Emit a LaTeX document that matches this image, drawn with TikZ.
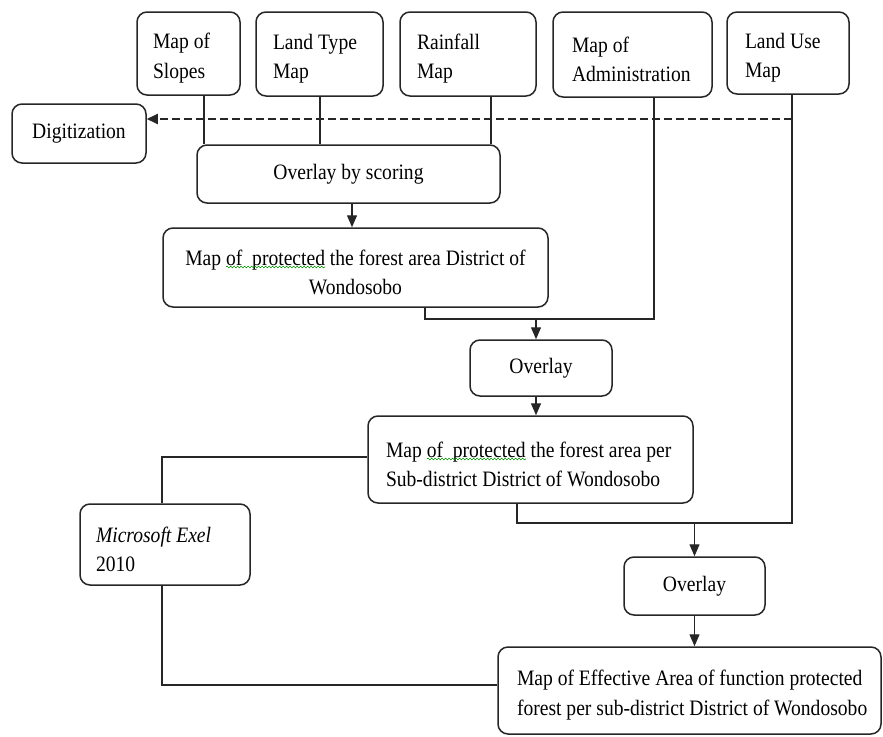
\documentclass[tikz,border=0pt]{standalone}
\usepackage{fontspec}
\setmainfont{Liberation Serif}[FakeStretch=0.89]
\usetikzlibrary{arrows.meta,decorations.pathmorphing}
\newcommand\topstrut{\spaceskip=0pt\xspaceskip=0pt\relax\rule{0pt}{25pt}}
\begin{document}
\begin{tikzpicture}[x=1pt,y=-1pt,
  box/.style={draw=black!85, line width=1.5pt, rounded corners=10pt, inner ysep=0pt, font=\fontsize{22}{29.5}\selectfont, text=black},
  lbox/.style={box, align=left},
  cbox/.style={box, align=center},
  link/.style={draw=black!85, line width=1.3pt},
  arr/.style={link, -{Triangle[length=12pt,width=10pt]}},
  dasharr/.style={link, line width=1.8pt, dash pattern=on 8pt off 4pt, -{Triangle[length=11pt,width=10pt]}},
  wavy/.style={draw=green!55!black, line width=0.6pt, decorate, decoration={snake, amplitude=0.9pt, segment length=3.5pt}}
]
\useasboundingbox (0,0) rectangle (883,736);

% top row
\node[lbox, text width=71pt, inner xsep=16pt, minimum height=83pt] (slopes) at (188.5,53.5) {\topstrut Map of\\Slopes};
\node[lbox, text width=93pt, inner xsep=17pt, minimum height=84pt] (ltype) at (319.5,54) {\topstrut Land Type\\Map};
\node[lbox, text width=102pt, inner xsep=17pt, minimum height=84pt] (rain) at (468,54) {\topstrut Rainfall\\Map};
\node[lbox, text width=121pt, inner xsep=19pt, minimum height=85pt] (admin) at (632.5,54.5) {\topstrut Map of\\Administration};
\node[lbox, text width=86pt, inner xsep=18pt, minimum height=82pt] (luse) at (788,53) {\topstrut Land Use\\Map};

\node[cbox, minimum width=134pt, minimum height=59pt] (dig) at (79,133.5) {Digitization};
\node[cbox, minimum width=303pt, minimum height=58pt] (score) at (348.5,174) {Overlay by scoring};
\node[cbox, minimum width=385pt, minimum height=79pt] (map1) at (355.5,267.5) {\topstrut Map of~ protected the forest area District of\\Wondosobo};
\node[cbox, minimum width=142pt, minimum height=56pt] (ov1) at (541,368) {Overlay};
\node[lbox, text width=289pt, inner xsep=18pt, minimum height=87pt] (b3) at (530.5,459.5) {\topstrut\mbox{Map of~ protected the forest area per}\\\mbox{Sub-district District of Wondosobo}};
\node[lbox, text width=138pt, inner xsep=16pt, minimum height=81pt] (excel) at (165,544.5) {\topstrut\textit{Microsoft Exel}\\2010};
\node[cbox, minimum width=141pt, minimum height=58pt] (ov2) at (694.5,586) {Overlay};
\node[lbox, text width=345pt, inner xsep=19pt, minimum height=87pt] (final) at (689.5,690.5) {\topstrut\mbox{Map of Effective Area of function protected}\\\mbox{forest per sub-district District of Wondosobo}};

% helper coordinates
\coordinate (c1) at (204,0);
\coordinate (c2) at (320,0);
\coordinate (c3) at (491,0);
\coordinate (c4) at (654,0);
\coordinate (c5) at (792,0);
\coordinate (x352) at (352,0);
\coordinate (x425) at (425,0);
\coordinate (x536) at (536,0);
\coordinate (x517) at (517,0);
\coordinate (x162) at (162,0);
\coordinate (dy) at (0,119);
\coordinate (y1) at (0,319);
\coordinate (y2) at (0,523);
\coordinate (y3) at (0,457);
\coordinate (y4) at (0,685);

% connectors
\draw[link] (slopes.south -| c1) -- (score.north -| c1);
\draw[link] (ltype.south -| c2) -- (score.north -| c2);
\draw[link] (rain.south -| c3) -- (score.north -| c3);
\draw[dasharr] (c5 |- dy) -- (dig.east |- dy);
\draw[arr] (score.south -| x352) -- (map1.north -| x352);
\draw[link] (map1.south -| x425) -- (x425 |- y1) -- (c4 |- y1) -- (admin.south -| c4);
\draw[arr] (x536 |- y1) -- (ov1.north -| x536);
\draw[arr] (ov1.south -| x536) -- (b3.north -| x536);
\draw[link] (b3.west |- y3) -- (x162 |- y3) -- (excel.north -| x162);
\draw[link] (excel.south -| x162) -- (x162 |- y4) -- (final.west |- y4);
\draw[link] (b3.south -| x517) -- (x517 |- y2) -- (c5 |- y2) -- (luse.south -| c5);
\draw[arr] (ov2.north |- y2) -- (ov2.north);
\draw[arr] (ov2.south) -- (final.north -| ov2.south);

% spell-check squiggles
\draw[wavy] (226,267) -- (325,267);
\draw[wavy] (427,459) -- (526,459);
\end{tikzpicture}
\end{document}
